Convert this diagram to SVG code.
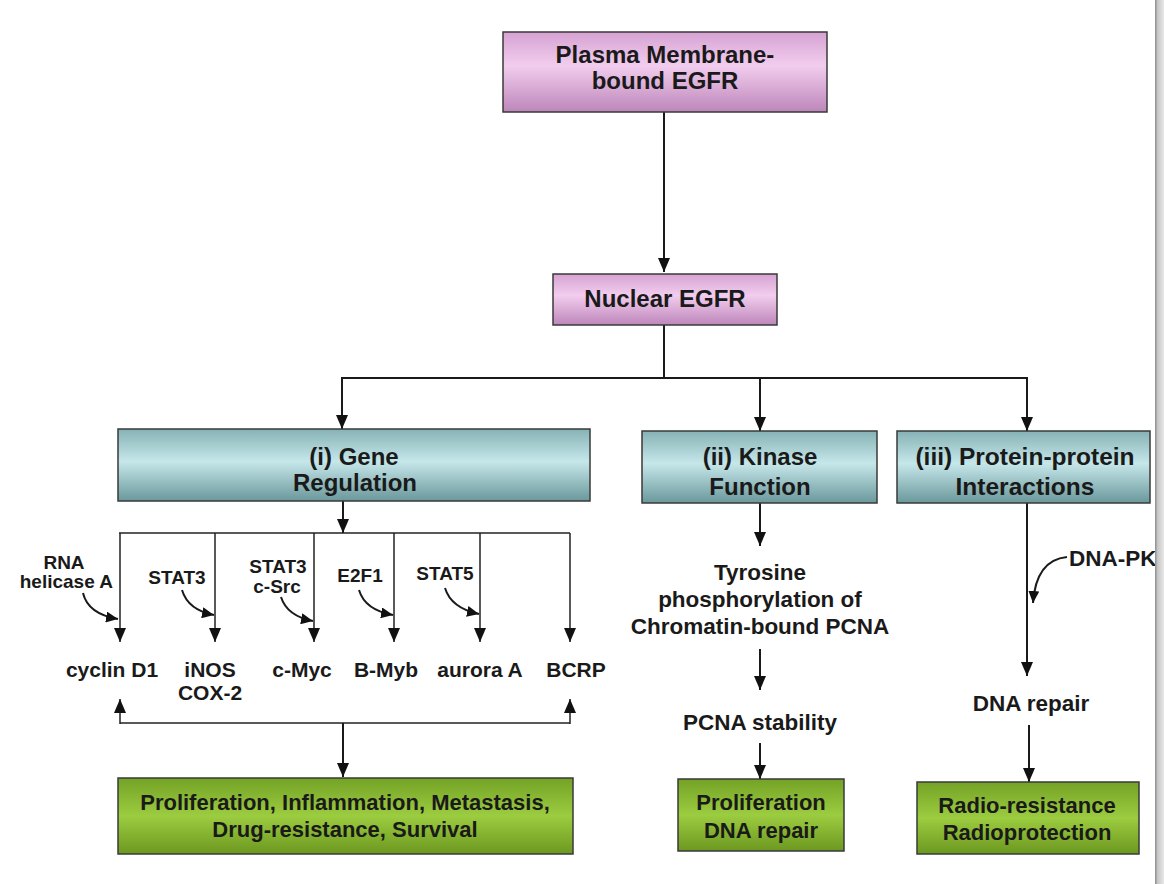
<svg xmlns="http://www.w3.org/2000/svg" width="1164" height="884" viewBox="0 0 1164 884">
<defs>
<linearGradient id="gPink" x1="0" y1="0" x2="0" y2="1">
<stop offset="0" stop-color="#d6a2d3"/><stop offset="0.42" stop-color="#f2cdee"/><stop offset="1" stop-color="#bd86ba"/>
</linearGradient>
<linearGradient id="gTeal" x1="0" y1="0" x2="0" y2="1">
<stop offset="0" stop-color="#86b2b5"/><stop offset="0.45" stop-color="#c6e7ea"/><stop offset="1" stop-color="#6a989b"/>
</linearGradient>
<linearGradient id="gGreen" x1="0" y1="0" x2="0" y2="1">
<stop offset="0" stop-color="#74a226"/><stop offset="0.5" stop-color="#9ccc40"/><stop offset="1" stop-color="#6c9820"/>
</linearGradient>
<linearGradient id="gBar" x1="0" y1="0" x2="1" y2="0">
<stop offset="0" stop-color="#8a8a8a"/><stop offset="0.3" stop-color="#c8c8c8"/><stop offset="1" stop-color="#e8e8e8"/>
</linearGradient>
<marker id="arr" viewBox="0 0 14 12" refX="14" refY="6" markerWidth="14" markerHeight="12" markerUnits="userSpaceOnUse" orient="auto">
<path d="M0,0 L14,6 L0,12 z" fill="#111"/>
</marker>
<marker id="arrs" viewBox="0 0 12 11" refX="12" refY="5.5" markerWidth="12" markerHeight="11" markerUnits="userSpaceOnUse" orient="auto">
<path d="M0,0 L12,5.5 L0,11 z" fill="#111"/>
</marker>
<style>
text{font-family:"Liberation Sans",Arial,sans-serif;font-weight:bold;fill:#1a1a1a;text-anchor:middle}
.t{font-size:24px}
.g{font-size:21px}
.s{font-size:19px}
.o{font-size:22px}
.box{stroke:#3a3a3a;stroke-width:1.5}
.ln{fill:none;stroke:#1a1a1a;stroke-width:2}
.th{fill:none;stroke:#222;stroke-width:1.5}
</style>
</defs>
<rect width="1164" height="884" fill="#fff"/>

<g id="connectors">
<line class="ln" x1="664" y1="112" x2="664" y2="272" marker-end="url(#arr)"/>
<line class="ln" x1="664" y1="325" x2="664" y2="378"/>
<line class="ln" x1="342" y1="378" x2="1027" y2="378"/>
<line class="ln" x1="342" y1="377" x2="342" y2="429" marker-end="url(#arr)"/>
<line class="ln" x1="760" y1="377" x2="760" y2="431" marker-end="url(#arr)"/>
<line class="ln" x1="1027" y1="377" x2="1027" y2="431" marker-end="url(#arr)"/>
<line class="ln" x1="343" y1="501" x2="343" y2="533" marker-end="url(#arr)"/>
<line class="th" x1="119" y1="533" x2="570" y2="533"/>
<line class="th" x1="120" y1="533" x2="120" y2="642" marker-end="url(#arr)"/>
<line class="th" x1="215" y1="533" x2="215" y2="642" marker-end="url(#arr)"/>
<line class="th" x1="314" y1="533" x2="314" y2="642" marker-end="url(#arr)"/>
<line class="th" x1="394" y1="533" x2="394" y2="642" marker-end="url(#arr)"/>
<line class="th" x1="480" y1="533" x2="480" y2="642" marker-end="url(#arr)"/>
<line class="th" x1="570" y1="533" x2="570" y2="642" marker-end="url(#arr)"/>
<path class="ln" d="M83,593 Q88,614 118,619" marker-end="url(#arrs)"/>
<path class="ln" d="M182,590 Q188,610 214,615" marker-end="url(#arrs)"/>
<path class="ln" d="M281,597 Q287,616 313,621" marker-end="url(#arrs)"/>
<path class="ln" d="M359,590 Q365,610 393,615" marker-end="url(#arrs)"/>
<path class="ln" d="M445,588 Q451,608 479,614" marker-end="url(#arrs)"/>
<line class="th" x1="120" y1="723" x2="570" y2="723"/>
<line class="th" x1="120" y1="724" x2="120" y2="699" marker-end="url(#arr)"/>
<line class="th" x1="570" y1="724" x2="570" y2="699" marker-end="url(#arr)"/>
<line class="ln" x1="343" y1="723" x2="343" y2="777" marker-end="url(#arr)"/>
<line class="ln" x1="760" y1="503" x2="760" y2="546" marker-end="url(#arr)"/>
<line class="ln" x1="760" y1="649" x2="760" y2="690" marker-end="url(#arr)"/>
<line class="ln" x1="760" y1="743" x2="760" y2="779" marker-end="url(#arr)"/>
<line class="ln" x1="1027" y1="503" x2="1027" y2="676" marker-end="url(#arr)"/>
<path class="ln" d="M1067,557 Q1036,560 1033,603" marker-end="url(#arrs)"/>
<line class="ln" x1="1029" y1="725" x2="1029" y2="782" marker-end="url(#arr)"/>
</g>

<g id="plasma">
<rect class="box" x="503" y="32" width="324" height="80" fill="url(#gPink)"/>
<text class="t" x="665" y="63">Plasma Membrane-</text>
<text class="t" x="665" y="89">bound EGFR</text>
</g>
<g id="nuclear">
<rect class="box" x="553" y="274" width="224" height="51" fill="url(#gPink)"/>
<text class="t" x="665" y="307">Nuclear EGFR</text>
</g>
<g id="gene-regulation">
<rect class="box" x="118" y="429" width="472" height="72" fill="url(#gTeal)"/>
<text class="t" x="354" y="465">(i) Gene</text>
<text class="t" x="355" y="491">Regulation</text>
</g>
<g id="kinase">
<rect class="box" x="642" y="431" width="235" height="72" fill="url(#gTeal)"/>
<text class="t" x="760" y="465">(ii) Kinase</text>
<text class="t" x="760" y="495">Function</text>
</g>
<g id="ppi">
<rect class="box" x="897" y="431" width="253" height="72" fill="url(#gTeal)"/>
<text class="t" x="1025" y="465" style="font-size:24.5px">(iii) Protein-protein</text>
<text class="t" x="1025" y="495" style="font-size:24.5px">Interactions</text>
</g>

<g id="regulators">
<text class="s" x="64" y="569">RNA</text>
<text class="s" x="113" y="588" style="text-anchor:end">helicase A</text>
<text class="s" x="177" y="584">STAT3</text>
<text class="s" x="278" y="573">STAT3</text>
<text class="s" x="277" y="593">c-Src</text>
<text class="s" x="360" y="582">E2F1</text>
<text class="s" x="445" y="580">STAT5</text>
</g>
<g id="targets">
<text class="g" x="112" y="677">cyclin D1</text>
<text class="g" x="210" y="677">iNOS</text>
<text class="g" x="210" y="700">COX-2</text>
<text class="g" x="302" y="677">c-Myc</text>
<text class="g" x="386" y="677">B-Myb</text>
<text class="g" x="480" y="677">aurora A</text>
<text class="g" x="576" y="677">BCRP</text>
</g>
<g id="tyrosine">
<text class="o" x="760" y="580" style="font-size:22.5px">Tyrosine</text>
<text class="o" x="760" y="607" style="font-size:22.5px">phosphorylation of</text>
<text class="o" x="760" y="634" style="font-size:22.5px">Chromatin-bound PCNA</text>
</g>
<g id="pcna">
<text class="o" x="760" y="730" style="font-size:22.5px">PCNA stability</text>
</g>
<g id="dnapk">
<text class="o" x="1069" y="566" style="text-anchor:start;font-size:22.5px">DNA-PK</text>
</g>
<g id="dnarepair">
<text class="o" x="1031" y="711" style="font-size:22.5px">DNA repair</text>
</g>

<g id="out-gene">
<rect class="box" x="118" y="778" width="455" height="76" fill="url(#gGreen)"/>
<text class="o" x="345" y="810">Proliferation, Inflammation, Metastasis,</text>
<text class="o" x="345" y="837">Drug-resistance, Survival</text>
</g>
<g id="out-kinase">
<rect class="box" x="678" y="779" width="166" height="72" fill="url(#gGreen)"/>
<text class="o" x="761" y="810">Proliferation</text>
<text class="o" x="761" y="838">DNA repair</text>
</g>
<g id="out-ppi">
<rect class="box" x="917" y="782" width="222" height="72" fill="url(#gGreen)"/>
<text class="o" x="1027" y="813">Radio-resistance</text>
<text class="o" x="1027" y="840">Radioprotection</text>
</g>

<rect x="1155" y="0" width="9" height="884" fill="url(#gBar)"/>
</svg>
